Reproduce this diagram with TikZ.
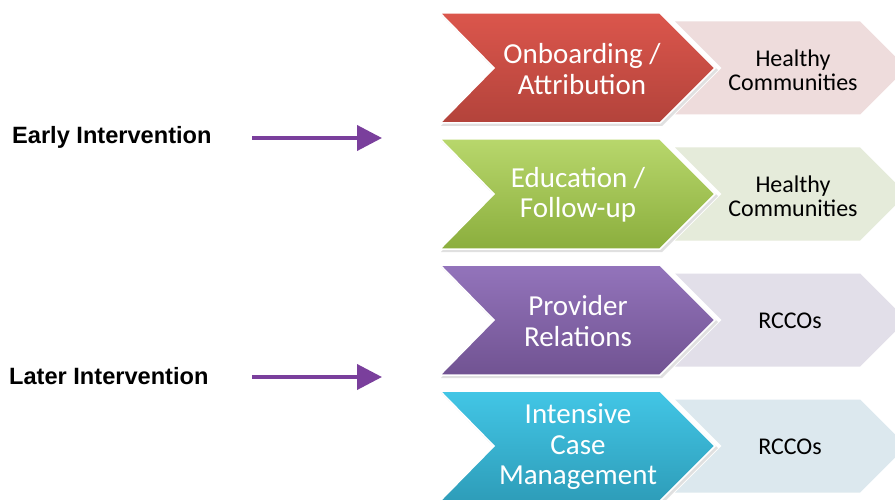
\documentclass[tikz,border=0pt]{standalone}
\usepackage{fontspec}
\setmainfont{Carlito}
\newfontfamily\arialfont{Liberation Sans}
\usetikzlibrary{arrows.meta}
\definecolor{redtop}{HTML}{DB564C}
\definecolor{redbot}{HTML}{B3433B}
\definecolor{redlight}{HTML}{EEDCDC}
\definecolor{greentop}{HTML}{B8D76C}
\definecolor{greenbot}{HTML}{8BAE3D}
\definecolor{greenlight}{HTML}{E5EBDA}
\definecolor{purptop}{HTML}{9374BB}
\definecolor{purpbot}{HTML}{715392}
\definecolor{purplight}{HTML}{E2DFE9}
\definecolor{cyantop}{HTML}{42C6E6}
\definecolor{cyanbot}{HTML}{2E9DB9}
\definecolor{cyanlight}{HTML}{DCE8EE}
\definecolor{arrowpurple}{HTML}{7A3F9C}
\newcommand\chevpair[4]{%
  \fill[#4] (675,#1-46.5) -- (860,#1-46.5) -- (906.5,#1) -- (860,#1+46.5) -- (675,#1+46.5) -- (721.5,#1) -- cycle;
  \fill[black!20,opacity=0.6] (441,#1-53) -- (662,#1-53) -- (718,#1+2) -- (662,#1+58) -- (441,#1+58) -- (495,#1+2) -- cycle;
  \shade[top color=#2,bottom color=#3,draw=white,line width=1.5pt] (440,#1-55) -- (660,#1-55) -- (715,#1) -- (660,#1+55) -- (440,#1+55) -- (494,#1) -- cycle;
}
\begin{document}
\begin{tikzpicture}[x=1pt,y=-1pt,
  maintext/.style={text=white,font=\fontsize{29}{30.5}\selectfont,align=center,inner sep=0},
  sidetext/.style={text=black,font=\fontsize{24}{24}\selectfont,align=center,inner sep=0},
  lefttext/.style={font=\arialfont\bfseries\fontsize{23.6}{26}\selectfont,anchor=west,inner sep=0},
  purplearrow/.style={draw=arrowpurple,line width=4pt,-{Triangle[length=25pt,width=25pt]}},
]
\useasboundingbox (0,0) rectangle (895,500);
\clip (0,0) rectangle (895,500);
\fill[white] (0,0) rectangle (895,500);

\chevpair{68}{redtop}{redbot}{redlight}
\chevpair{194}{greentop}{greenbot}{greenlight}
\chevpair{320}{purptop}{purpbot}{purplight}
\chevpair{446}{cyantop}{cyanbot}{cyanlight}

\node[maintext] (onb) at (582,69) {Onboarding /\\Attribution};
\node[maintext] (edu) at (578,195) {Education /\\Follow-up};
\node[maintext] (prov) at (578,321) {Provider\\Relations};
\node[maintext] (icm) at (578,447) {Intensive\\Case\\Management};

\node[sidetext] (hc1) at (793,70) {Healthy\\Communities};
\node[sidetext] (hc2) at (793,196) {Healthy\\Communities};
\node[sidetext] (rc1) at (790,321) {RCCOs};
\node[sidetext] (rc2) at (790,447) {RCCOs};

\node[lefttext] (early) at (12,137) {Early Intervention};
\node[lefttext] (later) at (9,376) {Later Intervention};

\coordinate (ea1) at (252,138);
\coordinate (ea2) at (382,138);
\coordinate (la1) at (252,377);
\coordinate (la2) at (382,377);
\draw[purplearrow] (ea1) -- (ea2);
\draw[purplearrow] (la1) -- (la2);
\end{tikzpicture}
\end{document}
